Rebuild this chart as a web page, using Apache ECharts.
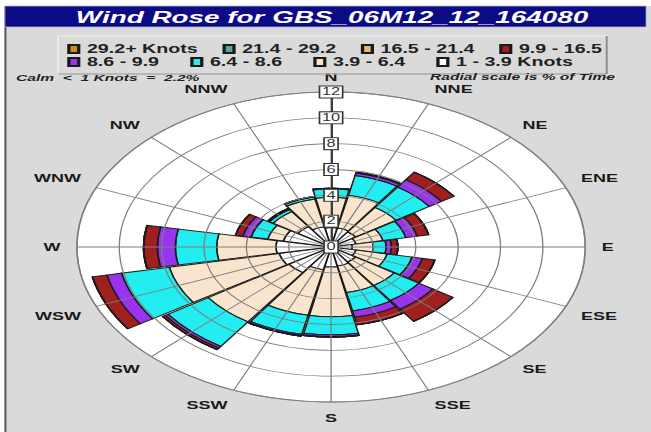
<!DOCTYPE html>
<html>
<head>
<meta charset="utf-8">
<title>Wind Rose</title>
<script src="https://cdn.jsdelivr.net/npm/echarts/dist/echarts.min.js"></script>
<style>
  html, body { margin: 0; padding: 0; background: #fff; overflow: hidden; }
  /* the original picture is stretched sideways, so the whole chart is drawn narrow and scaled */
  #chart { position: absolute; left: 0; top: 0; width: 397px; height: 432px;
           transform: scaleX(1.6398); transform-origin: 0 0; }
</style>
</head>
<body>
<div id="chart"></div>
<script>
const directions = ['N', 'NNE', 'NE', 'ENE', 'E', 'ESE', 'SE', 'SSE', 'S', 'SSW', 'SW', 'WSW', 'W', 'WNW', 'NW', 'NNW']

// speed classes, innermost first
const speedClasses = ['1 - 3.9 Knots', '3.9 - 6.4', '6.4 - 8.6', '8.6 - 9.9', '9.9 - 16.5', '16.5 - 21.4', '21.4 - 29.2', '29.2+ Knots']
const speedColors = ['#ffffff', '#f9e5cd', '#22eef2', '#9934ee', '#a01f1f', '#e6b676', '#5da3a0', '#c4901e']

// % of time per direction
const s1to39 = [1.5, 1.5, 1.4, 1.2, 1.0, 1.2, 1.4, 1.5, 1.55, 1.8, 2.4, 2.5, 2.6, 2.3, 1.9, 1.6]
const s39to64 = [2.35, 2.6, 2.3, 1.3, 1.0, 1.5, 2.2, 2.1, 3.85, 3.6, 4.6, 5.3, 2.8, 0.75, 1.4, 2.2]
const s64to86 = [0.65, 1.55, 1.9, 1.1, 0.6, 1.2, 1.4, 1.45, 1.4, 1.5, 2.3, 2.3, 1.95, 0.8, 0.2, 0.15]
const s86to99 = [0.05, 0.2, 0.7, 0.55, 0.25, 0.5, 0.8, 0.5, 0.13, 0.1, 0.15, 0.7, 0.85, 0.4, 0.05, 0.05]
const s99to165 = [0, 0.05, 0.7, 0.55, 0.3, 0.6, 1.15, 0.6, 0.05, 0.05, 0.15, 0.7, 0.65, 0.35, 0.05, 0]
const s165to214 = [0, 0, 0, 0, 0, 0, 0, 0, 0, 0, 0, 0, 0, 0, 0, 0]
const s214to292 = [0, 0, 0, 0, 0, 0, 0, 0, 0, 0, 0, 0, 0, 0, 0, 0]
const s292plus = [0, 0, 0, 0, 0, 0, 0, 0, 0, 0, 0, 0, 0, 0, 0, 0]
const speedData = [s1to39, s39to64, s64to86, s86to99, s99to165, s165to214, s214to292, s292plus]

const radialTicks = [0, 2, 4, 6, 8, 10, 12]

const legendRow1 = ['29.2+ Knots', '21.4 - 29.2', '16.5 - 21.4', '9.9 - 16.5']
const legendRow2 = ['8.6 - 9.9', '6.4 - 8.6', '3.9 - 6.4', '1 - 3.9 Knots']

const FONT = '"Liberation Sans", Arial, sans-serif'
const center = [201.9, 247]
const radius = 155

const chart = echarts.init(document.getElementById('chart'), null, { renderer: 'svg' })

const legendBase = {
  orient: 'horizontal',
  left: 41,
  padding: 0,
  itemWidth: 6,
  itemHeight: 8,
  icon: 'rect',
  selectedMode: false,
  textStyle: { fontFamily: FONT, fontWeight: 'bold', fontSize: 12, color: '#222', lineHeight: 14 }
}

chart.setOption({
  backgroundColor: '#dadada',
  animation: false,

  graphic: [
    { type: 'rect', z: 10, shape: { x: 0, y: 0, width: 397, height: 6 }, style: { fill: '#ffffff' } },
    { type: 'rect', z: 10, shape: { x: 0, y: 0, width: 3, height: 432 }, style: { fill: '#ffffff' } },
    { type: 'line', z: 10, shape: { x1: 3.3, y1: 6, x2: 3.3, y2: 432 }, style: { stroke: '#555', lineWidth: 1.2 } },
    // title bar
    { type: 'rect', z: 10, shape: { x: 3, y: 6, width: 391, height: 21 }, style: { fill: '#0b0b86', stroke: '#b8b8d8', lineWidth: 0.6 } },
    {
      type: 'text', z: 11, x: 202.5, y: 17,
      style: { text: 'Wind Rose for GBS_06M12_12_164080', fill: '#ffffff', font: 'italic bold 17px ' + FONT, align: 'center', verticalAlign: 'middle' }
    },
    // legend frame
    { type: 'rect', z: 1, shape: { x: 35.4, y: 36, width: 334.6, height: 38 }, style: { fill: 'none', stroke: '#f0f0f0', lineWidth: 1 } },
    { type: 'line', z: 1, shape: { x1: 370, y1: 36, x2: 370, y2: 74 }, style: { stroke: '#8a8a8a', lineWidth: 1.2 } },
    { type: 'line', z: 1, shape: { x1: 35.4, y1: 74, x2: 370, y2: 74 }, style: { stroke: '#8a8a8a', lineWidth: 1.2 } },
    {
      type: 'text', z: 11, x: 9.8, y: 78,
      style: { text: 'Calm  <  1 Knots  =  2.2%', fill: '#222', font: 'italic bold 9.5px ' + FONT, align: 'left', verticalAlign: 'middle' }
    },
    {
      type: 'text', z: 11, x: 375, y: 77,
      style: { text: 'Radial scale is % of Time', fill: '#222', font: 'italic bold 9.5px ' + FONT, align: 'right', verticalAlign: 'middle' }
    }
  ],

  legend: [
    Object.assign({}, legendBase, { top: 42, itemGap: 15, data: legendRow1 }),
    Object.assign({}, legendBase, { top: 55, itemGap: 19, data: legendRow2 })
  ],

  // polar 0 holds the bars, polar 1 draws the grid on top of them
  polar: [
    { center: center, radius: radius },
    { center: center, radius: radius }
  ],

  angleAxis: [{
    polarIndex: 0,
    type: 'category',
    data: directions,
    startAngle: 101.25,
    clockwise: true,
    axisLine: { show: false },
    axisTick: { show: false },
    splitLine: { show: false },
    axisLabel: { margin: 10, fontFamily: FONT, fontWeight: 'bold', fontSize: 11, color: '#1a1a1a' }
  }, {
    polarIndex: 1,
    type: 'value',
    min: 0,
    max: 360,
    interval: 22.5,
    startAngle: 90,
    clockwise: true,
    z: 4,
    axisLine: { show: true, lineStyle: { color: '#8a8a8a', width: 1 } },
    axisTick: { show: false },
    axisLabel: { show: false },
    splitLine: { show: true, lineStyle: { color: '#7e7e7e', width: 0.8 } }
  }],

  radiusAxis: [{
    polarIndex: 0,
    type: 'value',
    min: 0,
    max: 12,
    interval: 2,
    axisLine: { show: false },
    axisTick: { show: false },
    axisLabel: { show: false },
    splitLine: { show: false },
    splitArea: { show: true, areaStyle: { color: ['#ffffff'] } }
  }, {
    polarIndex: 1,
    type: 'value',
    min: radialTicks[0],
    max: radialTicks[radialTicks.length - 1],
    interval: radialTicks[1] - radialTicks[0],
    z: 5,
    axisLine: { show: true, lineStyle: { color: '#222', width: 1 } },
    axisTick: { show: false },
    splitLine: { show: true, lineStyle: { color: '#7e7e7e', width: 0.8 } },
    axisLabel: {
      margin: 0,
      align: 'center',
      verticalAlign: 'middle',
      fontFamily: FONT,
      fontSize: 10,
      color: '#333',
      backgroundColor: '#ffffff',
      borderColor: '#333',
      borderWidth: 1,
      padding: [1, 1, 0, 1]
    }
  }],

  series: speedClasses.map(function (name, i) {
    return {
      name: name,
      type: 'bar',
      coordinateSystem: 'polar',
      polarIndex: 0,
      stack: 'wind',
      barCategoryGap: '3%',
      data: speedData[i],
      itemStyle: { color: speedColors[i], borderColor: '#1a1a1a', borderWidth: 1 },
      z: 2
    }
  })
})
</script>
</body>
</html>
